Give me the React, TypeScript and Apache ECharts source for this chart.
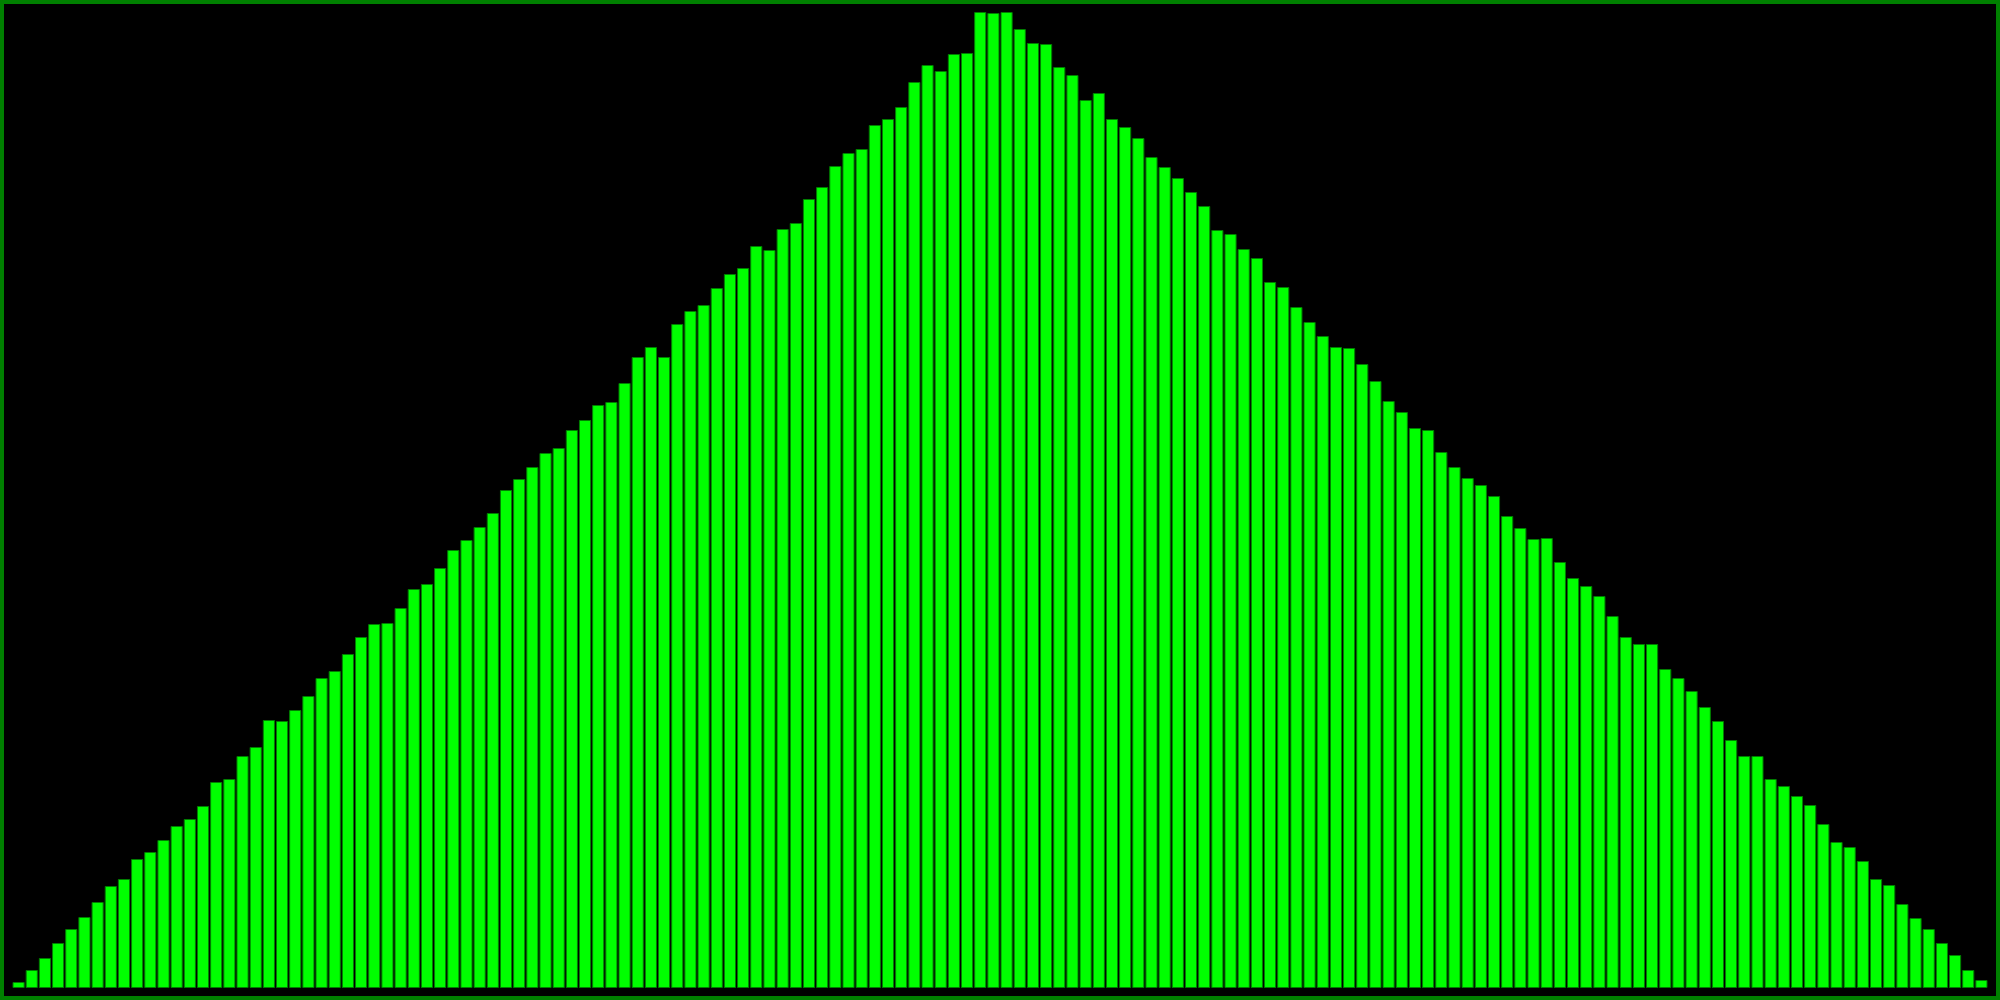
import React, { useEffect, useRef } from "react";
import * as echarts from "echarts";

const binLabels: string[] = Array.from({ length: 150 }, (_, i) => String(i + 1));

const counts: number[] = [
  6, 18, 30, 45, 59, 71, 86, 102, 109, 129,
  136, 148, 162, 169, 182, 206, 209, 232, 241, 268,
  267, 278, 292, 310, 317, 334, 351, 364, 365, 380,
  399, 404, 420, 438, 448, 461, 475, 498, 509, 521,
  535, 540, 558, 568, 583, 586, 605, 631, 641, 631,
  664, 677, 683, 700, 714, 720, 742, 738, 759, 765,
  789, 801, 822, 835, 839, 863, 869, 881, 906, 923,
  917, 934, 935, 976, 975, 976, 959, 945, 944, 921,
  913, 888, 895, 869, 861, 850, 831, 821, 810, 796,
  782, 758, 754, 739, 730, 706, 701, 681, 666, 652,
  641, 640, 624, 607, 587, 576, 560, 558, 536, 521,
  510, 503, 492, 472, 460, 449, 450, 426, 410, 402,
  392, 372, 351, 344, 344, 319, 310, 297, 281, 267,
  248, 232, 232, 209, 202, 192, 183, 164, 146, 141,
  127, 109, 103, 84, 70, 59, 45, 33, 18, 8,
];

const yMax = 976;

export default function App() {
  const ref = useRef<HTMLDivElement>(null);

  useEffect(() => {
    if (!ref.current) return;
    const chart = echarts.init(ref.current, undefined, { renderer: "svg" });
    chart.setOption({
      animation: false,
      backgroundColor: "#000000",
      grid: { left: 8, right: 8, top: 8, bottom: 8, containLabel: false },
      xAxis: {
        type: "category",
        data: binLabels,
        show: false,
      },
      yAxis: {
        type: "value",
        min: 0,
        max: yMax,
        show: false,
      },
      series: [
        {
          type: "bar",
          data: counts,
          barCategoryGap: "8%",
          itemStyle: {
            color: "#00ff00",
            borderColor: "#008000",
            borderWidth: 1,
          },
        },
      ],
    });
    return () => chart.dispose();
  }, []);

  return (
    <div
      style={{
        position: "fixed",
        left: 0,
        top: 0,
        width: 2000,
        height: 1000,
        boxSizing: "border-box",
        border: "4px solid #008000",
        background: "#000000",
      }}
    >
      <div ref={ref} style={{ width: 1992, height: 992 }} />
    </div>
  );
}
